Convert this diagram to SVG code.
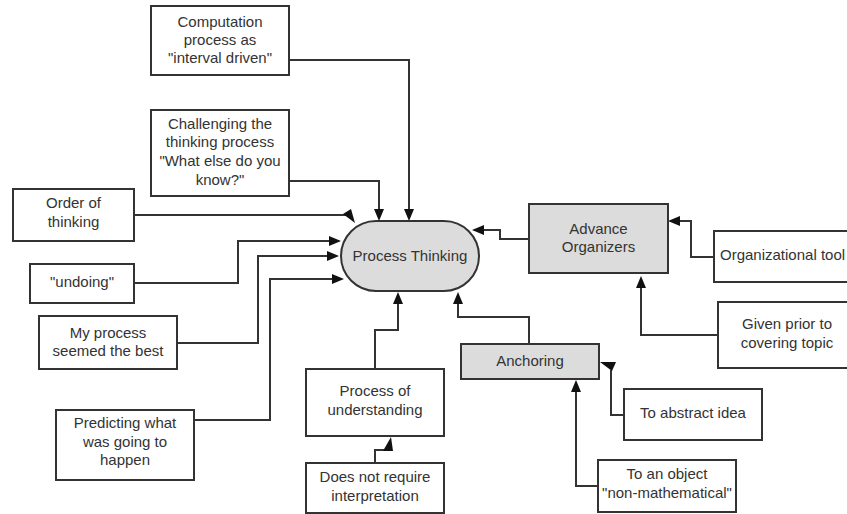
<svg xmlns="http://www.w3.org/2000/svg" width="847" height="514" viewBox="0 0 847 514">
<style>
.box{fill:#fff;stroke:#333;stroke-width:2}
.gray{fill:#dcdcdc;stroke:#333;stroke-width:2}
.t{font-family:"Liberation Sans",Arial,sans-serif;font-size:15px;fill:#333;text-anchor:middle}
.c path{fill:none;stroke:#333;stroke-width:2}
.c polygon{fill:#111;stroke:none}
</style>
<rect width="847" height="514" fill="#fff"/>
<g class="c" id="connectors">
<path d="M289,60 H409 V209"/><polygon points="404,209 414,209 409,221"/>
<path d="M289,181 H379 V209"/><polygon points="374,209 384,209 379,221"/>
<path d="M134,215 H346"/><polygon points="343,214 351,209 355,223"/>
<path d="M134,283 H238 V241 H329"/><polygon points="329,236 329,246 341,241"/>
<path d="M177,343 H258 V256 H327"/><polygon points="327,251 327,261 339,256"/>
<path d="M194,420 H270 V279 H332"/><polygon points="332,274 332,284 344,279"/>
<path d="M375,369 V330 H398 V304"/><polygon points="393,304 403,304 398,292"/>
<path d="M375,463 V450 H386"/><polygon points="383,451 391,437 393,451"/>
<path d="M529,239 H500 V230 H484"/><polygon points="484,225 484,235 472,230"/>
<path d="M714,257 H691 V221 H680"/><polygon points="680,216 680,226 668,221"/>
<path d="M718,335 H641 V288"/><polygon points="636,288 646,288 641,276"/>
<path d="M529,344 V317 H458 V304"/><polygon points="453,304 463,304 458,292"/>
<path d="M624,415 H611 V370"/><polygon points="600,362 616,362 612,371"/>
<path d="M598,486 H576 V392"/><polygon points="571,392 581,392 576,380"/>
</g>
<g id="computation"><rect class="box" x="151" y="6" width="138" height="69"/>
<text class="t" x="220" y="27">Computation</text><text class="t" x="220" y="45">process as</text><text class="t" x="220" y="63">"interval driven"</text></g>
<g id="challenging"><rect class="box" x="151" y="110" width="138" height="86"/>
<text class="t" x="220" y="129">Challenging the</text><text class="t" x="220" y="147">thinking process</text><text class="t" x="220" y="166">"What else do you</text><text class="t" x="220" y="185">know?"</text></g>
<g id="order"><rect class="box" x="13" y="189" width="121" height="52"/>
<text class="t" x="73.5" y="208">Order of</text><text class="t" x="73.5" y="227">thinking</text></g>
<g id="undoing"><rect class="box" x="30" y="264" width="104" height="39"/>
<text class="t" x="82" y="287">"undoing"</text></g>
<g id="myprocess"><rect class="box" x="39" y="316" width="138" height="53"/>
<text class="t" x="108" y="338">My process</text><text class="t" x="108" y="356">seemed the best</text></g>
<g id="predicting"><rect class="box" x="56" y="410" width="138" height="70"/>
<text class="t" x="125" y="428">Predicting what</text><text class="t" x="125" y="447">was going to</text><text class="t" x="125" y="465">happen</text></g>
<g id="processthinking"><rect class="gray" x="341" y="221" width="138" height="70" rx="35" ry="35"/>
<text class="t" x="410" y="261">Process Thinking</text></g>
<g id="understanding"><rect class="box" x="306" y="369" width="138" height="67"/>
<text class="t" x="375" y="396">Process of</text><text class="t" x="375" y="415">understanding</text></g>
<g id="interpretation"><rect class="box" x="306" y="463" width="138" height="50"/>
<text class="t" x="375" y="482">Does not require</text><text class="t" x="375" y="501">interpretation</text></g>
<g id="advance"><rect class="gray" x="529" y="204" width="139" height="69"/>
<text class="t" x="598.5" y="234">Advance</text><text class="t" x="598.5" y="252">Organizers</text></g>
<g id="orgtool"><rect class="box" x="714" y="231" width="140" height="51"/>
<text class="t" x="720" y="260" style="text-anchor:start">Organizational tool</text></g>
<g id="given"><rect class="box" x="718" y="302" width="138" height="66"/>
<text class="t" x="787" y="329">Given prior to</text><text class="t" x="787" y="348">covering topic</text></g>
<g id="anchoring"><rect class="gray" x="461" y="344" width="138" height="35"/>
<text class="t" x="530" y="366">Anchoring</text></g>
<g id="abstract"><rect class="box" x="624" y="389" width="138" height="51"/>
<text class="t" x="693" y="418">To abstract idea</text></g>
<g id="object"><rect class="box" x="598" y="460" width="138" height="52"/>
<text class="t" x="667" y="479">To an object</text><text class="t" x="667" y="498">"non-mathematical"</text></g>
</svg>
